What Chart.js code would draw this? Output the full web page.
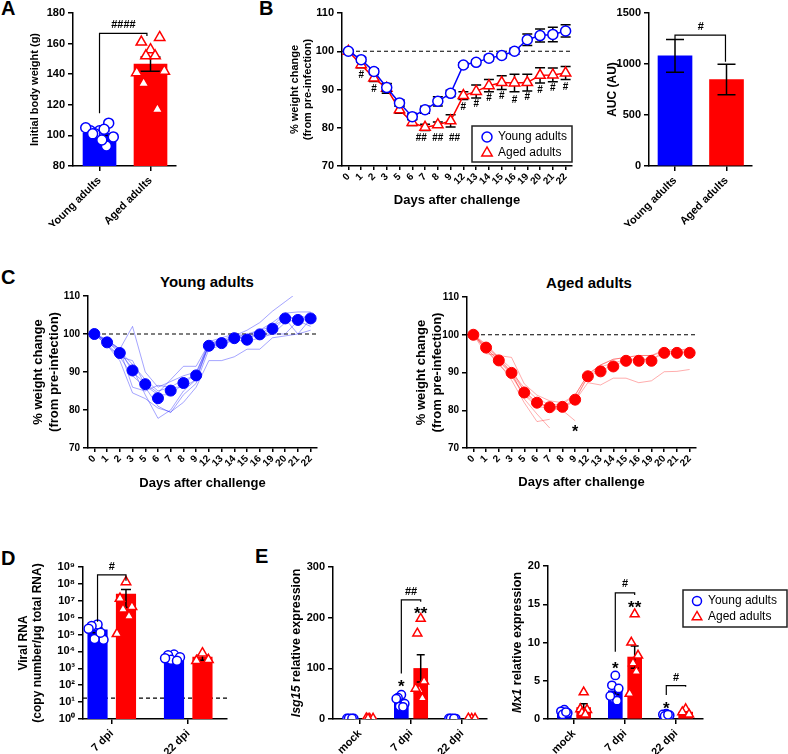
<!DOCTYPE html>
<html>
<head>
<meta charset="utf-8">
<script src="https://cdn.jsdelivr.net/npm/chart.js@4.4.1/dist/chart.umd.min.js"></script>
<style>
  body { margin: 0; background: #fff; width: 788px; height: 754px; position: relative; overflow: hidden;
         font-family: 'Liberation Sans', Arial, sans-serif; }
  canvas { position: absolute; }
  .lbl { position: absolute; font-weight: bold; color: #000; white-space: nowrap; }
</style>
</head>
<body>
<div class="lbl" style="left:1px;top:-3px;font-size:20px">A</div>
<div class="lbl" style="left:259px;top:-3px;font-size:20px">B</div>
<div class="lbl" style="left:1px;top:266px;font-size:20px">C</div>
<div class="lbl" style="left:1px;top:547px;font-size:20px">D</div>
<div class="lbl" style="left:255px;top:545px;font-size:20px">E</div>
<div class="lbl" style="left:207px;top:273px;font-size:15px;transform:translateX(-50%)">Young adults</div>
<div class="lbl" style="left:589px;top:274px;font-size:15px;transform:translateX(-50%)">Aged adults</div>
<script>
// ---- data ----
var groups = ['Young adults', 'Aged adults'];

// A: initial body weight (g)
var youngWeight = [103, 103, 108, 101, 104, 105, 99, 101, 93, 97];
var agedWeight = [156, 161, 164, 152, 152, 141, 142, 134, 117];
var weightMean = [101.4, 146.6];
var weightSem = [1.4, 4.6];

// B: % weight change
var days = ['0', '1', '2', '3', '5', '6', '7', '8', '9', '12', '13', '14', '15', '16', '19', '20', '21', '22'];
var youngMean = [100, 97.8, 94.7, 90.5, 86.5, 82.9, 84.7, 86.9, 89.0, 96.4, 97.1, 98.2, 98.9, 100.0, 103.0, 104.1, 104.4, 105.3];
var youngSem = [0.3, 0.6, 0.7, 1.0, 0.8, 0.8, 0.9, 1.2, 0.8, 0.6, 0.6, 0.7, 0.6, 0.8, 1.5, 1.7, 1.9, 1.6];
var agedMean = [100, 96.5, 93.0, 90.3, 84.7, 81.4, 80.1, 80.8, 81.8, 88.4, 89.5, 91.0, 91.8, 91.7, 91.8, 93.7, 93.8, 94.3];
var agedSem = [0.3, 0.8, 0.9, 1.3, 0.9, 0.8, 0.8, 0.7, 1.6, 1.0, 1.7, 1.6, 1.8, 2.3, 2.2, 2.0, 1.8, 1.7];

// B right: AUC
var aucMean = [1080, 848];
var aucSem = [160, 150];

// C: individual mice and group means
var cYoungMean = [100, 97.8, 95.0, 90.4, 86.8, 83.1, 85.1, 87.1, 89.1, 96.9, 97.6, 98.9, 98.5, 99.9, 101.4, 104.1, 103.7, 104.1];
var youngMice = [
  [100, 98.5, 96, 102, 90, 86, 87.5, 89, 90, 97, 98, 99, 100, 101, 103, 105.5, 105.8, 105.8],
  [100, 97, 93, 84.5, 83, 80.5, 79.5, 82, 86, 93, 93, 94, 96, 96, 99, 99.5, 100, 101],
  [100, 98, 95, 91, 84, 77.8, 80, 85, 88, 97, 97.5, 99, 99.5, 100, 101, 104, 100, 104],
  [100, 98, 96, 90, 87, 84.5, 88, 91.5, 91.5, 97.5, 98.5, 99.5, 101, 103, 106, 108.5, 111, 111],
  [100, 97.5, 94, 89, 86, 81, 79.3, 84, 87, 96, 97, 98.5, 98, 99, 100, 100, 103.5, 102],
  [100, 98, 95.5, 92, 88, 85, 86, 88, 89, 97, 97, 99, 99, 100, 102, 105.5, 103, 105.5],
  [100, 97, 94, 93, 86.5, 84, 84, 87, 89.5, 98, 99, 100, 99.5, 101, 102, 104, 104.5, 104.5],
  [100, 98.5, 96, 86, 85, 86.5, 86, 86, 88, 97.5, 98, 99, 99, 100, 100, 103, 104, 103.5]
];
var cAgedMean = [100, 96.6, 93.2, 89.9, 84.7, 82.0, 80.8, 80.9, 82.8, 89.0, 90.3, 91.6, 93.1, 93.1, 93.1, 95.2, 95.2, 95.2];
var agedMice = [
  [100, 95, 94.5, 94, 87, 84, 82.5, 82, 84, 89.5, 92, 93.5, 94, 94.5, 94.5, 95.5, 95.5, 96.6],
  [100, 96.5, 93, 90, 85, 82, 81, 81, 83, 89, 91.5, 92.5, 93.5, 93.5, 93.5, 95, 95, 95.5],
  [100, 96, 92, 89, 84, 81, 80.5, 80.5, 82.5, 87.3, 86.7, 88.5, 88.5, 87.3, 87.8, 90.2, 90.3, 90.8],
  [100, 97, 94, 90, 83, 79, 75.3],
  [100, 96, 92.5, 88, 82, 77, 77.6],
  [100, 97.5, 94, 91, 85, 82, 80.5, 80, 77.2],
  [100, 97, 93.5, 90, 86, 83, 81.5, 81.5, 84, 89.5, 92, 93.5, 94, 94.5, 94.5, 96, 96, 96],
  [100, 96.5, 93, 89.5, 84, 82, 80.8, 81, 82.5, 89, 90.5, 92, 93, 93.5, 93.5, 95.5, 95.5, 95.5]
];

// D: viral RNA (copies / ug total RNA)
var viralDays = ['7 dpi', '22 dpi'];
var viralYoung = [[4.0e5, 3.2e5, 5.0e4, 5.5e4, 1.3e5, 2.2e5], [6.5e3, 6.0e3, 4.5e3, 3.2e3, 2.8e3, 4.0e3]];
var viralAged = [[1.3e8, 1.35e7, 4.4e6, 3.1e6, 1.2e6, 1.1e5], [7.9e3, 2.8e3, 3.2e3]];
var viralYoungMean = [1.9e5, 4.5e3];
var viralAgedMean = [2.5e7, 4.6e3];
var viralYoungSem = [6e4, 6e2];
var viralAgedSem = [2.1e7, 1.6e3];
var detectionLimit = 17;
var decades = [0, 1, 2, 3, 4, 5, 6, 7, 8, 9];

// E: relative expression
var eGroups = ['mock', '7 dpi', '22 dpi'];
var isgYoung = [[0.8, 1.0, 1.2, 0.9, 1.1], [48, 42, 30, 25, 24, 40], [0.5, 1.0, 0.8, 1.2, 0.9]];
var isgAged = [[0.8, 1.5, 1.0, 0.7], [198, 169, 74, 57, 41, 60], [0.8, 1.2, 0.9]];
var isgYoungMean = [1.0, 34.8, 0.9];
var isgAgedMean = [1.0, 99.8, 1.0];
var isgYoungSem = [0.1, 4.2, 0.1];
var isgAgedSem = [0.2, 27, 0.1];
var mxYoung = [[1.2, 1.0, 0.8, 0.6, 0.9], [5.7, 4.4, 4.0, 2.7, 2.4, 3.0], [0.7, 0.6, 0.5, 0.4, 0.55]];
var mxAged = [[3.5, 1.3, 1.2, 0.8, 0.6], [13.7, 10.0, 8.3, 7.3, 6.2, 3.3], [1.3, 0.9, 0.6]];
var mxYoungMean = [0.9, 3.7, 0.55];
var mxAgedMean = [1.5, 8.1, 0.9];
var mxYoungSem = [0.1, 0.5, 0.05];
var mxAgedSem = [0.5, 1.45, 0.2];

// ---- styling helpers ----
var BLUE = '#0000ff', RED = '#ff0000';
var FONT = "'Liberation Sans', Arial, sans-serif";
Chart.defaults.font.family = FONT;
Chart.defaults.color = '#000';
var spread = [0, -0.6, 0.6, -0.3, 0.3, -0.9, 0.9, -0.45, 0.45, 0.15];
var sup = ['\u2070', '\u00b9', '\u00b2', '\u00b3', '\u2074', '\u2075', '\u2076', '\u2077', '\u2078', '\u2079'];

function place(area, m) {
  var c = document.createElement('canvas');
  var w = area.r - area.l + m.l + m.r, h = area.b - area.t + m.t + m.b;
  c.width = w; c.height = h;
  c.style.left = (area.l - m.l) + 'px';
  c.style.top = (area.t - m.t) + 'px';
  document.body.appendChild(c);
  return { canvas: c, ox: area.l - m.l, oy: area.t - m.t, m: m };
}

function swarm(vals, x, w) {
  return vals.map(function (v, i) { return { x: x + spread[i % spread.length] * w, y: v }; });
}

function valueAxis(min, max, step, m, size, title, tsize) {
  return {
    type: 'linear', min: min, max: max,
    ticks: { stepSize: step, font: { size: size, weight: 'bold' }, color: '#000', padding: 3,
             callback: function (v) { return String(v); } },
    border: { color: '#000', width: 1.5 },
    grid: { drawOnChartArea: false, color: '#000', lineWidth: 1.5, tickLength: 5 },
    title: title ? { display: true, text: title, color: '#000', font: { size: tsize, weight: 'bold' }, padding: { top: 4, bottom: 4 } } : { display: false },
    afterFit: function (s) { s.width = m.l; }
  };
}

function groupAxis(min, max, names, m, size) {
  return {
    type: 'linear', min: min, max: max, offset: false,
    afterBuildTicks: function (s) { s.ticks = names.map(function (n, i) { return { value: i + 1 }; }); },
    ticks: { autoSkip: false, minRotation: 45, maxRotation: 45, font: { size: size, weight: 'bold' }, color: '#000',
             callback: function (v) { return names[Math.round(v) - 1] || ''; } },
    grid: { offset: false, drawOnChartArea: false, color: '#000', lineWidth: 1.5, tickLength: 5 },
    border: { color: '#000', width: 1.5 },
    afterFit: function (s) { s.height = m.b; }
  };
}

function dayAxis(m, size) {
  return {
    type: 'category', offset: true,
    grid: { offset: false, drawOnChartArea: false, color: '#000', lineWidth: 1.5, tickLength: 4 },
    border: { color: '#000', width: 1.5 },
    ticks: { autoSkip: false, minRotation: 45, maxRotation: 45, font: { size: size, weight: 'bold' }, color: '#000', padding: 1 },
    title: { display: true, text: 'Days after challenge', color: '#000', font: { size: 13, weight: 'bold' }, padding: { top: 4, bottom: 4 } },
    afterFit: function (s) { s.height = m.b; }
  };
}

function opts(p, scales) {
  return {
    responsive: false, animation: false, events: [],
    layout: { padding: { left: 0, top: p.m.t, right: p.m.r, bottom: 0 } },
    plugins: { legend: { display: false }, tooltip: { enabled: false } },
    scales: scales
  };
}

function marker(ctx, style, x, y, r, color) {
  ctx.save();
  ctx.beginPath();
  if (style === 'circle') {
    ctx.arc(x, y, r, 0, Math.PI * 2);
  } else {
    ctx.moveTo(x, y - r);
    ctx.lineTo(x - r * 0.866, y + r * 0.5);
    ctx.lineTo(x + r * 0.866, y + r * 0.5);
  }
  ctx.closePath();
  ctx.fillStyle = '#fff'; ctx.fill();
  ctx.lineWidth = 1.5; ctx.strokeStyle = color; ctx.stroke();
  ctx.restore();
}

function drawErr(chart, di, cap) {
  var ds = chart.data.datasets[di], meta = chart.getDatasetMeta(di), ys = chart.scales.y, ctx = chart.ctx;
  ctx.save();
  ctx.strokeStyle = '#000'; ctx.lineWidth = 1.5;
  meta.data.forEach(function (el, i) {
    var d = ds.data[i], v = (d && typeof d === 'object') ? d.y : d, e = ds.errors[i];
    if (v == null || e == null) return;
    var top = ys.getPixelForValue(v + e);
    var low = v - e > ys.min ? v - e : ys.min;
    var bot = ys.getPixelForValue(low);
    ctx.beginPath();
    ctx.moveTo(el.x, top); ctx.lineTo(el.x, bot);
    ctx.moveTo(el.x - cap / 2, top); ctx.lineTo(el.x + cap / 2, top);
    if (v - e > ys.min) { ctx.moveTo(el.x - cap / 2, bot); ctx.lineTo(el.x + cap / 2, bot); }
    ctx.stroke();
  });
  ctx.restore();
}

// per-chart annotations: reference line, error bars, brackets, significance marks, legend, side titles
function marks(p, cfg) {
  return {
    id: 'marks',
    beforeDatasetsDraw: function (chart) {
      if (cfg.hline == null) return;
      var ctx = chart.ctx, a = chart.chartArea, y = chart.scales.y.getPixelForValue(cfg.hline);
      ctx.save();
      ctx.setLineDash([4, 3]); ctx.strokeStyle = '#000'; ctx.lineWidth = 1.2;
      ctx.beginPath(); ctx.moveTo(a.left, y); ctx.lineTo(a.right, y); ctx.stroke();
      ctx.restore();
    },
    beforeDatasetDraw: function (chart, args) {
      var ds = chart.data.datasets[args.index];
      if (ds.errors && ds.errBehind) drawErr(chart, args.index, cfg.cap);
    },
    afterDatasetDraw: function (chart, args) {
      var ds = chart.data.datasets[args.index];
      if (ds.errors && !ds.errBehind) drawErr(chart, args.index, cfg.cap);
    },
    afterDraw: function (chart) {
      var ctx = chart.ctx, xs = chart.scales.x, ys = chart.scales.y;
      ctx.save();
      ctx.strokeStyle = '#000'; ctx.lineWidth = 1.2;
      (cfg.brackets || []).forEach(function (b) {
        var x1 = xs.getPixelForValue(b.x1), x2 = xs.getPixelForValue(b.x2), y = ys.getPixelForValue(b.y);
        ctx.beginPath();
        ctx.moveTo(x1, ys.getPixelForValue(b.y1)); ctx.lineTo(x1, y); ctx.lineTo(x2, y); ctx.lineTo(x2, ys.getPixelForValue(b.y2));
        ctx.stroke();
      });
      ctx.fillStyle = '#000'; ctx.textAlign = 'center'; ctx.textBaseline = 'middle';
      (cfg.texts || []).forEach(function (t) {
        var size = t.size || 11;
        ctx.font = 'bold ' + size + 'px ' + FONT;
        var dy = t.t.indexOf('*') >= 0 ? size * 0.28 : 0;
        ctx.fillText(t.t, xs.getPixelForValue(t.x), ys.getPixelForValue(t.y) + dy);
      });
      if (cfg.side) {
        var s = cfg.side, a = chart.chartArea;
        ctx.translate(s.x - p.ox, (a.top + a.bottom) / 2);
        ctx.rotate(-Math.PI / 2);
        ctx.textAlign = 'left';
        var total = 0;
        s.parts.forEach(function (pt) {
          ctx.font = (pt.it ? 'italic ' : '') + 'bold ' + s.size + 'px ' + FONT;
          total += ctx.measureText(pt.t).width;
        });
        var cx = -total / 2;
        s.parts.forEach(function (pt) {
          ctx.font = (pt.it ? 'italic ' : '') + 'bold ' + s.size + 'px ' + FONT;
          ctx.fillText(pt.t, cx, 0);
          cx += ctx.measureText(pt.t).width;
        });
        ctx.setTransform(1, 0, 0, 1, 0, 0);
      }
      if (cfg.legend) {
        var L = cfg.legend, lx = L.x - p.ox, ly = L.y - p.oy;
        ctx.fillStyle = '#fff'; ctx.fillRect(lx, ly, L.w, L.h);
        ctx.lineWidth = 1.5; ctx.strokeStyle = '#222'; ctx.strokeRect(lx, ly, L.w, L.h);
        L.items.forEach(function (it) {
          marker(ctx, it.style, L.mx - p.ox, it.y - p.oy, it.r, it.color);
          ctx.fillStyle = '#000'; ctx.font = L.size + 'px ' + FONT;
          ctx.textAlign = 'left'; ctx.textBaseline = 'middle';
          ctx.fillText(it.t, L.tx - p.ox, it.y - p.oy);
        });
      }
      ctx.restore();
    }
  };
}

function pointSet(data, style, color, r) {
  return { type: 'line', showLine: false, data: data, pointStyle: style, pointRadius: r, pointBorderWidth: 1.5,
           pointBorderColor: color, pointBackgroundColor: '#fff', order: 0 };
}

function barSet(xs, means, sems, color, width) {
  return { type: 'bar', data: xs.map(function (x, i) { return { x: x, y: means[i] }; }), backgroundColor: color,
           maxBarThickness: width, grouped: false, categoryPercentage: 1, barPercentage: 1, errors: sems, order: 1 };
}

// ---- A: initial body weight ----
var pA = place({ l: 73, t: 13, r: 176, b: 166 }, { l: 49, t: 13, r: 24, b: 60 });
new Chart(pA.canvas, {
  type: 'bar',
  data: { datasets: [
    pointSet(swarm(youngWeight, 1, 0.3), 'circle', BLUE, 5),
    pointSet(swarm(agedWeight, 2, 0.3), 'triangle', RED, 6),
    barSet([1, 2], weightMean, weightSem, [BLUE, RED], 33)
  ] },
  options: opts(pA, {
    x: groupAxis(0.48, 2.5, groups, pA.m, 11),
    y: valueAxis(80, 180, 20, pA.m, 11, 'Initial body weight (g)', 11)
  }),
  plugins: [marks(pA, { cap: 20, brackets: [{ x1: 1, x2: 1.93, y: 166.7, y1: 114.4, y2: 165 }],
                        texts: [{ x: 1.47, y: 172.2, t: '####', size: 11 }] })]
});

// ---- B: weight change over time ----
var pB = place({ l: 342, t: 13, r: 572, b: 166 }, { l: 58, t: 13, r: 18, b: 46 });
var hashB = [[1, 93.6, '#'], [2, 90.1, '#'], [5.7, 77.2, '##'], [7, 77.2, '##'], [8.3, 77.2, '##'], [9, 85.4, '#'], [10, 86.2, '#'],
             [11, 87.6, '#'], [12, 88.2, '#'], [13, 87.3, '#'], [14, 88.0, '#'], [15, 89.9, '#'], [16, 90.3, '#'], [17, 90.6, '#']];
new Chart(pB.canvas, {
  type: 'line',
  data: { labels: days, datasets: [
    { data: youngMean, errors: youngSem, errBehind: true, borderColor: BLUE, borderWidth: 1.5, pointStyle: 'circle', pointRadius: 5,
      pointBorderWidth: 1.5, pointBorderColor: BLUE, pointBackgroundColor: '#fff' },
    { data: agedMean, errors: agedSem, errBehind: true, borderColor: RED, borderWidth: 1.5, pointStyle: 'triangle', pointRadius: 6,
      pointBorderWidth: 1.5, pointBorderColor: RED, pointBackgroundColor: '#fff' }
  ] },
  options: opts(pB, {
    x: dayAxis(pB.m, 10),
    y: valueAxis(70, 110, 10, pB.m, 11, ['% weight change', '(from pre-infection)'], 11)
  }),
  plugins: [marks(pB, {
    cap: 10, hline: 100,
    texts: hashB.map(function (h) { return { x: h[0], y: h[1], t: h[2], size: 10 }; }),
    legend: { x: 472, y: 126, w: 100, h: 36, mx: 487, tx: 498, size: 12, items: [
      { t: groups[0], style: 'circle', color: BLUE, r: 5, y: 137 },
      { t: groups[1], style: 'triangle', color: RED, r: 6, y: 153 }
    ] }
  })]
});

// ---- B right: AUC ----
var pAuc = place({ l: 649, t: 13, r: 752, b: 166 }, { l: 48, t: 13, r: 30, b: 60 });
new Chart(pAuc.canvas, {
  type: 'bar',
  data: { datasets: [barSet([1, 2], aucMean, aucSem, [BLUE, RED], 34)] },
  options: opts(pAuc, {
    x: groupAxis(0.495, 2.495, groups, pAuc.m, 11),
    y: valueAxis(0, 1500, 500, pAuc.m, 11, 'AUC (AU)', 12)
  }),
  plugins: [marks(pAuc, { cap: 18, brackets: [{ x1: 1, x2: 1.98, y: 1284, y1: 1242, y2: 1022 }],
                          texts: [{ x: 1.5, y: 1360, t: '#', size: 11 }] })]
});

// ---- C: individual trajectories ----
function miceSets(mice, color) {
  return mice.map(function (row) {
    return { data: row, borderColor: color, borderWidth: 1, pointRadius: 0, order: 1 };
  });
}
var pCy = place({ l: 88, t: 296, r: 317, b: 448 }, { l: 61, t: 36, r: 20, b: 47 });
new Chart(pCy.canvas, {
  type: 'line',
  data: { labels: days, datasets: [
    { data: cYoungMean, showLine: false, pointRadius: 5.5, pointBackgroundColor: BLUE, pointBorderColor: BLUE, order: 0 }
  ].concat(miceSets(youngMice, 'rgba(40,40,255,0.42)')) },
  options: opts(pCy, {
    x: dayAxis(pCy.m, 10),
    y: valueAxis(70, 110, 10, pCy.m, 10, ['% weight change', '(from pre-infection)'], 13)
  }),
  plugins: [marks(pCy, { hline: 100 })]
});

var pCa = place({ l: 467, t: 297, r: 696, b: 448 }, { l: 57, t: 37, r: 24, b: 46 });
new Chart(pCa.canvas, {
  type: 'line',
  data: { labels: days, datasets: [
    { data: cAgedMean, showLine: false, pointRadius: 5.5, pointBackgroundColor: RED, pointBorderColor: RED, order: 0 }
  ].concat(miceSets(agedMice, 'rgba(255,40,40,0.38)')) },
  options: opts(pCa, {
    x: dayAxis(pCa.m, 10),
    y: valueAxis(70, 110, 10, pCa.m, 10, ['% weight change', '(from pre-infection)'], 13)
  }),
  plugins: [marks(pCa, { hline: 100, texts: [{ x: 8, y: 75.2, t: '*', size: 16 }] })]
});

// ---- D: viral RNA ----
var pD = place({ l: 83, t: 567, r: 227, b: 719 }, { l: 71, t: 27, r: 18, b: 35 });
var dOff = 0.186;
var dYoungPts = [], dAgedPts = [];
viralYoung.forEach(function (v, g) { dYoungPts = dYoungPts.concat(swarm(v, g + 1 - dOff, 0.13)); });
viralAged.forEach(function (v, g) { dAgedPts = dAgedPts.concat(swarm(v, g + 1 + dOff, 0.13)); });
var dY = valueAxis(1, 1e9, 1, pD.m, 11, ['Viral RNA', '(copy number/\u03bcg total RNA)'], 12);
dY.type = 'logarithmic';
dY.afterBuildTicks = function (s) { s.ticks = decades.map(function (e) { return { value: Math.pow(10, e) }; }); };
dY.ticks.callback = function (v) { return '10' + sup[Math.round(Math.log10(v))]; };
new Chart(pD.canvas, {
  type: 'bar',
  data: { datasets: [
    pointSet(dYoungPts, 'circle', BLUE, 4.5),
    pointSet(dAgedPts, 'triangle', RED, 5.5),
    barSet([1 - dOff, 2 - dOff], viralYoungMean, viralYoungSem, BLUE, 19.5),
    barSet([1 + dOff, 2 + dOff], viralAgedMean, viralAgedSem, RED, 19.5)
  ] },
  options: opts(pD, { x: groupAxis(0.624, 2.507, viralDays, pD.m, 11), y: dY }),
  plugins: [marks(pD, { cap: 10, hline: detectionLimit,
    brackets: [{ x1: 1 - dOff, x2: 1 + dOff, y: 3.4e8, y1: 5.8e5, y2: 1.55e8 }],
    texts: [{ x: 1, y: 1e9, t: '#', size: 11 }] })]
});

// ---- E: Isg15 and Mx1 ----
function exprSets(youngPts, agedPts, yMean, aMean, ySem, aSem, off) {
  var yp = [], ap = [];
  youngPts.forEach(function (v, g) { yp = yp.concat(swarm(v, g + 1 - off, 0.11)); });
  agedPts.forEach(function (v, g) { ap = ap.concat(swarm(v, g + 1 + off, 0.11)); });
  var xs = eGroups.map(function (n, i) { return i + 1; });
  return [
    pointSet(yp, 'circle', BLUE, 4.2),
    pointSet(ap, 'triangle', RED, 5.2),
    barSet(xs.map(function (x) { return x - off; }), yMean, ySem, BLUE, 14),
    barSet(xs.map(function (x) { return x + off; }), aMean, aSem, RED, 14)
  ];
}
var eOff = 0.19;
var pE1 = place({ l: 333, t: 567, r: 487, b: 719 }, { l: 53, t: 27, r: 13, b: 35 });
new Chart(pE1.canvas, {
  type: 'bar',
  data: { datasets: exprSets(isgYoung, isgAged, isgYoungMean, isgAgedMean, isgYoungSem, isgAgedSem, eOff) },
  options: opts(pE1, { x: groupAxis(0.47, 3.49, eGroups, pE1.m, 11), y: valueAxis(0, 300, 100, pE1.m, 11) }),
  plugins: [marks(pE1, { cap: 8,
    brackets: [{ x1: 2 - eOff, x2: 2 + eOff, y: 235, y1: 90, y2: 231.5 }],
    texts: [{ x: 2 - eOff, y: 71.7, t: '*', size: 17 }, { x: 2 + eOff, y: 216.6, t: '**', size: 17 },
            { x: 2, y: 251, t: '##', size: 11 }],
    side: { x: 297, size: 12.5, parts: [{ t: 'Isg15', it: true }, { t: ' relative expression' }] } })]
});

var pE2 = place({ l: 548, t: 566, r: 703, b: 719 }, { l: 43, t: 26, r: 85, b: 35 });
new Chart(pE2.canvas, {
  type: 'bar',
  data: { datasets: exprSets(mxYoung, mxAged, mxYoungMean, mxAgedMean, mxYoungSem, mxAgedSem, eOff) },
  options: opts(pE2, { x: groupAxis(0.49, 3.53, eGroups, pE2.m, 11), y: valueAxis(0, 20, 5, pE2.m, 11) }),
  plugins: [marks(pE2, { cap: 8,
    brackets: [{ x1: 2 - eOff, x2: 2 + eOff, y: 16.5, y1: 8.8, y2: 16.2 },
               { x1: 3 - eOff, x2: 3 + eOff, y: 4.36, y1: 3.14, y2: 4.2 }],
    texts: [{ x: 2 - eOff, y: 7.06, t: '*', size: 17 }, { x: 2 + eOff, y: 15.1, t: '**', size: 17 },
            { x: 2, y: 17.6, t: '#', size: 11 }, { x: 3 - eOff, y: 1.92, t: '*', size: 17 },
            { x: 3, y: 5.3, t: '#', size: 11 }],
    side: { x: 518, size: 12.5, parts: [{ t: 'Mx1', it: true }, { t: ' relative expression' }] },
    legend: { x: 683, y: 590, w: 104, h: 37, mx: 697, tx: 708, size: 12, items: [
      { t: groups[0], style: 'circle', color: BLUE, r: 4.5, y: 601 },
      { t: groups[1], style: 'triangle', color: RED, r: 5.5, y: 617 }
    ] } })]
});
</script>
</body>
</html>
